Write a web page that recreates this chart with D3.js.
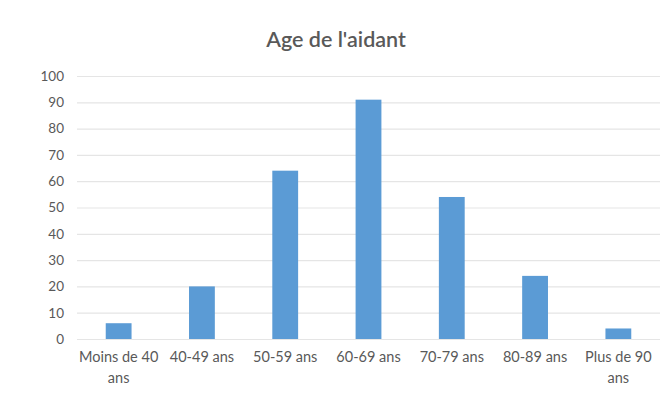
<!DOCTYPE html>
<html><head><meta charset="utf-8">
<script src="https://cdn.jsdelivr.net/npm/d3@7"></script>
<style>body{margin:0;background:#fff}svg{display:block}</style>
</head><body>
<svg id="c" width="670" height="408"></svg>
<script>
const categories = ["Moins de 40 ans","40-49 ans","50-59 ans","60-69 ans","70-79 ans","80-89 ans","Plus de 90 ans"];
const values = [6, 20, 64, 91, 54, 24, 4];
const yTicks = [0,10,20,30,40,50,60,70,80,90,100];
const title = "Age de l'aidant";

(function(){
const svg = d3.select("#c");
const mLeft = 77, mRight = 660, mTop = 76, mBottom = 339;
const font = "Lato, 'Open Sans', sans-serif";
const x = d3.scaleBand().domain(categories).range([mLeft, mRight]).paddingInner(0.69).paddingOuter(0.345);
const y = d3.scaleLinear().domain([0,100]).range([mBottom, mTop]);

svg.append("text").attr("x", 336).attr("y", 47).attr("text-anchor","middle")
  .attr("font-family", font).attr("font-size", 21.5).attr("font-weight", 600).attr("fill","#595959").text(title);

const yAxis = d3.axisLeft(y).tickValues(yTicks).tickSize(-(mRight-mLeft)).tickPadding(13);
const gy = svg.append("g").attr("transform",`translate(${mLeft},0)`).call(yAxis);
gy.select(".domain").remove();
gy.selectAll(".tick line").attr("stroke","#e5e5e5").attr("stroke-width",1.2);
gy.selectAll(".tick text").attr("font-family", font).attr("font-size", 13.5).attr("fill","#595959");

svg.append("g").selectAll("rect").data(values).join("rect")
  .attr("x",(d,i)=>x(categories[i])).attr("width",x.bandwidth())
  .attr("y",d=>y(d)).attr("height",d=>y(0)-y(d)).attr("fill","#5B9BD5");

const xAxis = d3.axisBottom(x).tickSize(0).tickPadding(13);
const gx = svg.append("g").attr("transform",`translate(0,${mBottom})`).call(xAxis);
gx.select(".domain").remove();
gx.selectAll(".tick text").attr("font-family", font).attr("font-size", 14.5).attr("fill","#595959")
  .attr("textLength", null)
  .each(function(d){
    const t = d3.select(this); t.text(null);
    let lines = [d];
    if (d === "Moins de 40 ans") lines = ["Moins de 40","ans"];
    if (d === "Plus de 90 ans") lines = ["Plus de 90","ans"];
    lines.forEach((l,i)=>t.append("tspan").attr("x",0).attr("dy", i===0 ? "0.71em" : "1.45em").text(l));
  });
})();
</script>
</body></html>
